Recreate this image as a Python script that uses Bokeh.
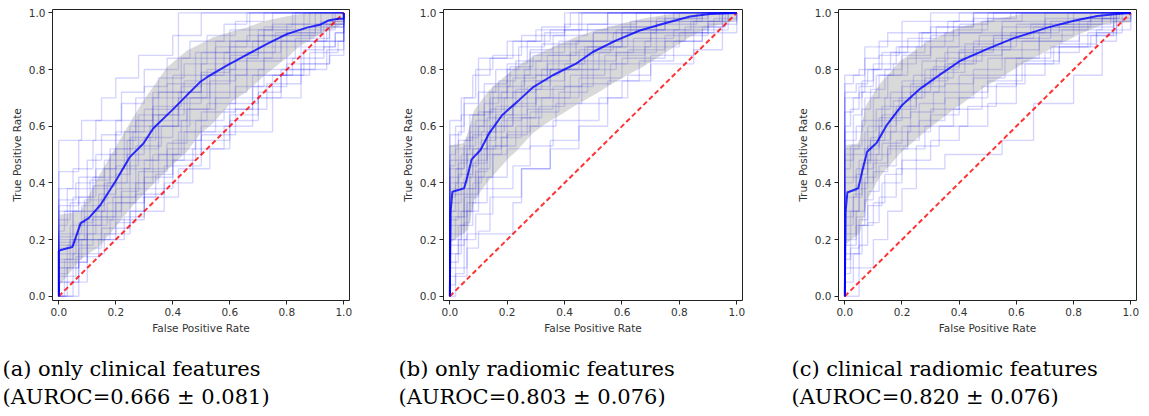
from bokeh.plotting import figure
from bokeh.layouts import row
from bokeh.models import Range1d, Title, PrintfTickFormatter
from bokeh.embed import file_html
from bokeh.resources import INLINE

# ---------------- data ----------------
captions_line1 = ["(a) only clinical features", "(b) only radiomic features", "(c) clinical radiomic features"]
captions_line2 = ["(AUROC=0.666 \u00b1 0.081)", "(AUROC=0.803 \u00b1 0.076)", "(AUROC=0.820 \u00b1 0.076)"]

# mean ROC curves
mean1_fpr = [0, 0, 0.01, 0.048, 0.077, 0.105, 0.146, 0.198, 0.25, 0.297, 0.331, 0.397, 0.449, 0.496, 0.52, 0.589, 0.665, 0.729, 0.8, 0.87, 0.916, 0.945, 0.98, 1.0, 1.0]
mean1_tpr = [0, 0.16, 0.164, 0.174, 0.258, 0.276, 0.322, 0.404, 0.492, 0.539, 0.592, 0.656, 0.709, 0.756, 0.773, 0.814, 0.855, 0.89, 0.925, 0.948, 0.958, 0.973, 0.979, 0.979, 1.0]
mean2_fpr = [0, 0.003, 0.009, 0.05, 0.061, 0.076, 0.107, 0.137, 0.183, 0.242, 0.289, 0.359, 0.44, 0.498, 0.58, 0.662, 0.744, 0.837, 0.907, 1.0]
mean2_tpr = [0, 0.3, 0.369, 0.381, 0.422, 0.483, 0.516, 0.575, 0.64, 0.693, 0.737, 0.78, 0.821, 0.862, 0.903, 0.938, 0.962, 0.987, 0.996, 1.0]
mean3_fpr = [0, 0.003, 0.009, 0.047, 0.062, 0.078, 0.111, 0.146, 0.199, 0.263, 0.333, 0.404, 0.497, 0.591, 0.708, 0.801, 0.883, 0.942, 1.0]
mean3_tpr = [0, 0.3, 0.366, 0.381, 0.446, 0.51, 0.541, 0.603, 0.673, 0.732, 0.782, 0.831, 0.872, 0.911, 0.948, 0.972, 0.989, 0.995, 1.0]

# +/- 1 std band edges
band1_fpr = [0, 0.077, 0.146, 0.2, 0.26, 0.297, 0.38, 0.449, 0.496, 0.54, 0.61, 0.656, 0.729, 0.81, 0.84, 0.916, 1.0]
band1_up = [0.287, 0.3, 0.434, 0.527, 0.63, 0.69, 0.808, 0.866, 0.89, 0.913, 0.935, 0.948, 0.973, 0.99, 0.995, 1.0, 1.0]
band1_lo = [0.035, 0.131, 0.178, 0.245, 0.32, 0.36, 0.445, 0.51, 0.573, 0.61, 0.69, 0.72, 0.785, 0.85, 0.879, 0.925, 0.96]
band2_fpr = [0, 0.05, 0.063, 0.085, 0.137, 0.207, 0.23, 0.289, 0.335, 0.394, 0.44, 0.51, 0.557, 0.627, 0.674, 0.744, 0.767, 0.837, 0.907, 1.0]
band2_up = [0.533, 0.54, 0.58, 0.656, 0.727, 0.79, 0.809, 0.845, 0.868, 0.895, 0.915, 0.94, 0.95, 0.97, 0.98, 0.992, 0.995, 1.0, 1.0, 1.0]
band2_lo = [0.188, 0.225, 0.235, 0.34, 0.41, 0.49, 0.51, 0.575, 0.61, 0.645, 0.675, 0.715, 0.745, 0.785, 0.81, 0.855, 0.87, 0.915, 0.95, 0.973]
band3_fpr = [0, 0.05, 0.053, 0.07, 0.078, 0.123, 0.193, 0.205, 0.287, 0.298, 0.392, 0.404, 0.497, 0.509, 0.591, 0.614, 0.731, 0.825, 0.907, 1.0]
band3_up = [0.533, 0.54, 0.56, 0.662, 0.68, 0.75, 0.83, 0.838, 0.898, 0.903, 0.945, 0.95, 0.973, 0.975, 0.99, 0.995, 1.0, 1.0, 1.0, 1.0]
band3_lo = [0.182, 0.22, 0.223, 0.3, 0.34, 0.422, 0.504, 0.515, 0.586, 0.595, 0.668, 0.675, 0.745, 0.75, 0.8, 0.815, 0.879, 0.926, 0.961, 0.967]

# individual fold ROC curves: (fpr, tpr) corner points of each staircase
folds1 = [
    [(0, 0.44), (0.07, 0.55), (0.13, 0.62), (0.22, 0.72), (0.3, 0.8), (0.42, 1.0)],
    [(0, 0.21), (0.05, 0.35), (0.13, 0.45), (0.2, 0.55), (0.27, 0.62), (0.35, 0.72), (0.5, 0.82), (0.6, 0.9), (0.67, 1.0)],
    [(0, 0.1), (0.07, 0.25), (0.15, 0.3), (0.22, 0.4), (0.33, 0.5), (0.42, 0.58), (0.75, 0.7), (0.85, 0.82), (0.95, 0.9)],
    [(0, 0.05), (0.05, 0.15), (0.1, 0.22), (0.2, 0.3), (0.3, 0.42), (0.4, 0.55), (0.5, 0.65), (0.62, 0.78), (0.8, 0.9), (0.95, 0.95)],
    [(0.07, 0.2), (0.15, 0.35), (0.25, 0.48), (0.35, 0.62), (0.45, 0.72), (0.55, 0.84), (0.7, 0.92), (0.9, 1.0)],
    [(0, 0.3), (0.1, 0.38), (0.18, 0.52), (0.28, 0.64), (0.38, 0.75), (0.48, 0.86), (0.6, 0.94), (0.75, 1.0)],
    [(0, 0.17), (0.04, 0.25), (0.09, 0.34), (0.17, 0.4), (0.24, 0.5), (0.3, 0.56), (0.4, 0.66), (0.53, 0.76), (0.62, 0.86), (0.78, 0.92), (0.92, 1.0)],
    [(0, 0.12), (0.1, 0.2), (0.2, 0.26), (0.27, 0.36), (0.37, 0.46), (0.5, 0.6), (0.6, 0.68), (0.7, 0.8), (0.85, 0.88), (0.97, 0.93)],
    [(0, 0.38), (0.05, 0.45), (0.12, 0.55), (0.2, 0.62), (0.33, 0.7), (0.43, 0.84), (0.55, 0.9), (0.72, 0.95), (0.82, 1.0)],
    [(0, 0.08), (0.03, 0.18), (0.12, 0.28), (0.22, 0.37), (0.28, 0.44), (0.38, 0.54), (0.45, 0.66), (0.55, 0.72), (0.66, 0.84), (0.75, 0.9), (0.88, 0.95)],
    [(0, 0.22), (0.08, 0.32), (0.16, 0.45), (0.23, 0.58), (0.3, 0.66), (0.4, 0.78), (0.55, 0.88), (0.66, 0.92), (0.8, 0.96), (0.96, 1.0)],
    [(0, 0.15), (0.06, 0.22), (0.13, 0.3), (0.2, 0.38), (0.3, 0.48), (0.44, 0.58), (0.55, 0.7), (0.75, 0.78), (0.86, 0.87), (0.93, 0.96)],
    [(0.03, 0.1), (0.07, 0.17), (0.15, 0.24), (0.25, 0.3), (0.37, 0.4), (0.47, 0.52), (0.58, 0.6), (0.68, 0.74), (0.8, 0.82), (0.95, 0.85)],
    [(0, 0.25), (0.03, 0.38), (0.1, 0.48), (0.15, 0.57), (0.22, 0.68), (0.3, 0.74), (0.38, 0.84), (0.46, 0.9), (0.58, 0.96), (0.66, 1.0)],
    [(0, 0.05), (0.07, 0.12), (0.1, 0.27), (0.19, 0.35), (0.27, 0.53), (0.36, 0.6), (0.46, 0.7), (0.6, 0.8), (0.72, 0.88), (0.85, 0.94), (0.97, 1.0)],
    [(0, 0.18), (0.05, 0.3), (0.14, 0.36), (0.2, 0.46), (0.28, 0.52), (0.35, 0.64), (0.44, 0.7), (0.52, 0.8), (0.62, 0.83), (0.78, 0.9), (0.94, 0.97)],
    [(0.02, 0.13), (0.08, 0.2), (0.18, 0.27), (0.3, 0.35), (0.42, 0.45), (0.53, 0.52), (0.6, 0.64), (0.7, 0.72), (0.78, 0.8), (0.9, 0.9)],
    [(0, 0.34), (0.06, 0.4), (0.13, 0.5), (0.2, 0.58), (0.27, 0.7), (0.35, 0.77), (0.44, 0.82), (0.52, 0.92), (0.62, 0.97), (0.72, 1.0)],
    [(0, 0.1), (0.04, 0.2), (0.1, 0.3), (0.16, 0.4), (0.22, 0.45), (0.32, 0.6), (0.42, 0.68), (0.5, 0.75), (0.6, 0.88), (0.72, 0.94), (0.86, 1.0)],
    [(0, 0.2), (0.09, 0.28), (0.2, 0.33), (0.3, 0.45), (0.38, 0.52), (0.48, 0.62), (0.58, 0.66), (0.68, 0.78), (0.82, 0.84), (0.93, 0.88), (0.97, 0.93)],
    [(0, 0.55), (0.08, 0.62), (0.15, 0.7), (0.2, 0.77), (0.28, 0.85), (0.4, 0.92), (0.5, 1.0)],
    [(0, 0.27), (0.04, 0.33), (0.11, 0.41), (0.18, 0.5), (0.25, 0.6), (0.33, 0.67), (0.43, 0.74), (0.5, 0.79), (0.6, 0.85), (0.7, 0.94), (0.83, 1.0)],
    [(0, 0.07), (0.06, 0.14), (0.14, 0.2), (0.23, 0.28), (0.3, 0.38), (0.4, 0.48), (0.48, 0.55), (0.6, 0.62), (0.7, 0.7), (0.78, 0.78), (0.88, 0.86), (0.98, 0.9)],
    [(0, 0.19), (0.07, 0.26), (0.12, 0.39), (0.2, 0.43), (0.25, 0.56), (0.33, 0.64), (0.42, 0.72), (0.5, 0.78), (0.58, 0.86), (0.68, 0.9), (0.8, 0.93), (0.92, 0.97)],
    [(0, 0.13), (0.05, 0.2), (0.1, 0.25), (0.17, 0.33), (0.27, 0.4), (0.35, 0.5), (0.43, 0.62), (0.52, 0.68), (0.62, 0.74), (0.72, 0.84), (0.83, 0.91), (0.95, 0.96)],
    [(0, 0.32), (0.07, 0.42), (0.16, 0.48), (0.24, 0.55), (0.34, 0.6), (0.42, 0.7), (0.53, 0.78), (0.66, 0.86), (0.76, 0.93), (0.9, 0.96)],
    [(0, 0.23), (0.02, 0.3), (0.07, 0.35), (0.12, 0.42), (0.2, 0.52), (0.26, 0.58), (0.33, 0.72), (0.44, 0.76), (0.5, 0.86), (0.62, 0.9), (0.75, 0.96), (0.88, 1.0)],
    [(0.05, 0.05), (0.1, 0.15), (0.16, 0.22), (0.25, 0.35), (0.34, 0.43), (0.4, 0.5), (0.5, 0.57), (0.62, 0.66), (0.73, 0.75), (0.85, 0.8), (0.94, 0.87)],
]
folds2 = [
    [(0, 0.53), (0.03, 0.58), (0.05, 0.68), (0.1, 0.84), (0.2, 0.9), (0.3, 0.94), (0.45, 1.0)],
    [(0, 0.45), (0.05, 0.55), (0.08, 0.64), (0.14, 0.7), (0.2, 0.78), (0.28, 0.86), (0.4, 0.94), (0.55, 1.0)],
    [(0, 0.2), (0.04, 0.3), (0.07, 0.42), (0.12, 0.52), (0.18, 0.62), (0.25, 0.7), (0.35, 0.8), (0.48, 0.88), (0.6, 0.94), (0.75, 1.0)],
    [(0, 0.1), (0.06, 0.22), (0.12, 0.22), (0.22, 0.33), (0.25, 0.45), (0.35, 0.52), (0.45, 0.6), (0.55, 0.7), (0.62, 0.78), (0.7, 0.85), (0.85, 0.93), (0.95, 1.0)],
    [(0, 0.38), (0.03, 0.48), (0.08, 0.57), (0.14, 0.66), (0.2, 0.74), (0.26, 0.8), (0.36, 0.88), (0.5, 0.93), (0.65, 0.97), (0.8, 1.0)],
    [(0, 0.3), (0.02, 0.4), (0.06, 0.5), (0.1, 0.6), (0.15, 0.7), (0.22, 0.77), (0.3, 0.83), (0.42, 0.9), (0.55, 0.95), (0.7, 1.0)],
    [(0, 0.25), (0.06, 0.33), (0.09, 0.44), (0.13, 0.5), (0.18, 0.56), (0.25, 0.63), (0.32, 0.7), (0.42, 0.78), (0.54, 0.85), (0.68, 0.9), (0.82, 0.95), (0.95, 1.0)],
    [(0, 0.57), (0.04, 0.64), (0.1, 0.72), (0.16, 0.8), (0.24, 0.88), (0.33, 0.93), (0.4, 1.0)],
    [(0, 0.15), (0.03, 0.25), (0.05, 0.35), (0.1, 0.45), (0.14, 0.6), (0.22, 0.68), (0.3, 0.76), (0.4, 0.82), (0.5, 0.88), (0.62, 0.94), (0.8, 0.97), (0.95, 1.0)],
    [(0, 0.42), (0.04, 0.5), (0.07, 0.6), (0.12, 0.68), (0.17, 0.76), (0.23, 0.83), (0.32, 0.89), (0.45, 0.94), (0.6, 1.0)],
    [(0, 0.07), (0.06, 0.17), (0.1, 0.23), (0.14, 0.35), (0.25, 0.45), (0.35, 0.55), (0.45, 0.62), (0.52, 0.7), (0.6, 0.76), (0.7, 0.82), (0.85, 0.87), (0.95, 0.93)],
    [(0, 0.35), (0.02, 0.45), (0.05, 0.53), (0.09, 0.62), (0.14, 0.72), (0.2, 0.8), (0.28, 0.87), (0.36, 0.92), (0.48, 0.96), (0.65, 1.0)],
    [(0, 0.22), (0.05, 0.3), (0.08, 0.4), (0.11, 0.55), (0.16, 0.64), (0.22, 0.72), (0.3, 0.78), (0.38, 0.85), (0.5, 0.9), (0.6, 0.95), (0.72, 0.98), (0.88, 1.0)],
    [(0, 0.48), (0.03, 0.55), (0.07, 0.64), (0.12, 0.75), (0.2, 0.82), (0.27, 0.9), (0.35, 0.94), (0.46, 1.0)],
    [(0, 0.12), (0.03, 0.2), (0.06, 0.3), (0.1, 0.38), (0.15, 0.5), (0.2, 0.58), (0.28, 0.65), (0.38, 0.72), (0.48, 0.8), (0.58, 0.86), (0.72, 0.93), (0.9, 0.97)],
    [(0, 0.3), (0.05, 0.42), (0.08, 0.47), (0.13, 0.58), (0.19, 0.64), (0.27, 0.74), (0.35, 0.8), (0.45, 0.87), (0.57, 0.93), (0.72, 0.96), (0.86, 1.0)],
    [(0, 0.2), (0.02, 0.28), (0.06, 0.38), (0.1, 0.5), (0.13, 0.56), (0.2, 0.63), (0.3, 0.7), (0.45, 0.77), (0.6, 0.84), (0.75, 0.9), (0.88, 0.95), (0.96, 1.0)],
    [(0, 0.5), (0.02, 0.6), (0.05, 0.7), (0.09, 0.8), (0.15, 0.85), (0.25, 0.92), (0.4, 0.96), (0.55, 1.0)],
    [(0, 0.04), (0.02, 0.15), (0.04, 0.25), (0.08, 0.33), (0.13, 0.42), (0.2, 0.52), (0.28, 0.6), (0.37, 0.68), (0.46, 0.75), (0.56, 0.82), (0.68, 0.88), (0.8, 0.93), (0.92, 0.98)],
    [(0, 0.27), (0.03, 0.36), (0.07, 0.46), (0.1, 0.52), (0.16, 0.6), (0.22, 0.67), (0.3, 0.73), (0.4, 0.8), (0.52, 0.86), (0.64, 0.91), (0.78, 0.94), (0.9, 1.0)],
    [(0, 0.62), (0.04, 0.7), (0.08, 0.78), (0.14, 0.84), (0.22, 0.9), (0.32, 0.95), (0.42, 1.0)],
    [(0, 0.33), (0.04, 0.4), (0.06, 0.52), (0.11, 0.58), (0.16, 0.67), (0.23, 0.73), (0.32, 0.8), (0.42, 0.86), (0.56, 0.9), (0.7, 0.93), (0.85, 0.97), (0.97, 1.0)],
    [(0, 0.18), (0.05, 0.26), (0.07, 0.36), (0.1, 0.42), (0.15, 0.53), (0.23, 0.6), (0.31, 0.67), (0.4, 0.74), (0.5, 0.82), (0.62, 0.87), (0.75, 0.92), (0.9, 0.96)],
    [(0, 0.4), (0.03, 0.47), (0.06, 0.56), (0.1, 0.65), (0.15, 0.74), (0.21, 0.81), (0.29, 0.85), (0.38, 0.9), (0.5, 0.93), (0.63, 0.97), (0.78, 1.0)],
    [(0.02, 0.08), (0.05, 0.2), (0.09, 0.29), (0.15, 0.38), (0.22, 0.46), (0.28, 0.53), (0.36, 0.62), (0.45, 0.68), (0.55, 0.76), (0.66, 0.83), (0.78, 0.9), (0.88, 0.94), (0.97, 1.0)],
    [(0, 0.46), (0.02, 0.52), (0.07, 0.58), (0.12, 0.65), (0.18, 0.72), (0.26, 0.78), (0.34, 0.85), (0.44, 0.9), (0.58, 0.94), (0.75, 0.98), (0.9, 1.0)],
    [(0, 0.28), (0.05, 0.38), (0.09, 0.48), (0.13, 0.53), (0.2, 0.57), (0.27, 0.66), (0.36, 0.74), (0.46, 0.83), (0.58, 0.88), (0.7, 0.94), (0.84, 0.97), (0.94, 1.0)],
    [(0, 0.36), (0.03, 0.43), (0.08, 0.52), (0.13, 0.63), (0.19, 0.7), (0.25, 0.76), (0.34, 0.82), (0.47, 0.88), (0.6, 0.93), (0.72, 0.97), (0.88, 1.0)],
]
folds3 = [
    [(0, 0.78), (0.05, 0.8), (0.07, 0.88), (0.15, 0.93), (0.2, 0.97), (0.3, 1.0)],
    [(0, 0.55), (0.04, 0.6), (0.07, 0.7), (0.12, 0.78), (0.2, 0.85), (0.3, 0.92), (0.4, 0.96), (0.5, 1.0)],
    [(0, 0.25), (0.03, 0.35), (0.06, 0.45), (0.1, 0.55), (0.16, 0.63), (0.23, 0.72), (0.3, 0.8), (0.4, 0.86), (0.52, 0.92), (0.65, 0.96), (0.8, 1.0)],
    [(0, 0.15), (0.05, 0.25), (0.08, 0.32), (0.13, 0.4), (0.2, 0.48), (0.3, 0.55), (0.4, 0.6), (0.5, 0.68), (0.6, 0.78), (0.7, 0.86), (0.82, 0.92), (0.94, 0.97)],
    [(0.05, 0.1), (0.1, 0.2), (0.15, 0.3), (0.2, 0.38), (0.25, 0.45), (0.35, 0.5), (0.55, 0.55), (0.66, 0.68), (0.8, 0.78), (0.9, 0.9), (0.95, 1.0)],
    [(0, 0.45), (0.02, 0.53), (0.06, 0.62), (0.1, 0.7), (0.15, 0.78), (0.22, 0.84), (0.3, 0.88), (0.4, 0.93), (0.55, 0.97), (0.7, 1.0)],
    [(0, 0.35), (0.04, 0.45), (0.07, 0.52), (0.12, 0.6), (0.18, 0.66), (0.25, 0.72), (0.33, 0.79), (0.42, 0.85), (0.55, 0.9), (0.68, 0.94), (0.85, 0.97), (0.95, 1.0)],
    [(0, 0.65), (0.03, 0.7), (0.06, 0.76), (0.1, 0.82), (0.18, 0.88), (0.26, 0.93), (0.36, 0.97), (0.45, 1.0)],
    [(0, 0.2), (0.02, 0.3), (0.05, 0.38), (0.08, 0.5), (0.12, 0.58), (0.18, 0.67), (0.25, 0.74), (0.35, 0.82), (0.45, 0.88), (0.58, 0.93), (0.72, 0.97), (0.9, 1.0)],
    [(0, 0.72), (0.04, 0.75), (0.08, 0.8), (0.13, 0.86), (0.2, 0.9), (0.3, 0.95), (0.45, 1.0)],
    [(0, 0.1), (0.05, 0.18), (0.08, 0.26), (0.12, 0.35), (0.18, 0.45), (0.25, 0.53), (0.33, 0.6), (0.43, 0.67), (0.53, 0.75), (0.63, 0.82), (0.75, 0.88), (0.88, 0.93), (0.97, 1.0)],
    [(0, 0.5), (0.03, 0.58), (0.06, 0.66), (0.09, 0.73), (0.14, 0.8), (0.2, 0.86), (0.28, 0.9), (0.38, 0.94), (0.5, 0.98), (0.6, 1.0)],
    [(0, 0.3), (0.05, 0.4), (0.08, 0.48), (0.13, 0.54), (0.2, 0.6), (0.26, 0.68), (0.35, 0.75), (0.45, 0.8), (0.55, 0.87), (0.68, 0.92), (0.8, 0.96), (0.93, 1.0)],
    [(0, 0.6), (0.02, 0.66), (0.05, 0.74), (0.1, 0.8), (0.16, 0.86), (0.22, 0.91), (0.32, 0.95), (0.45, 0.98), (0.58, 1.0)],
    [(0, 0.05), (0.03, 0.15), (0.06, 0.25), (0.1, 0.33), (0.14, 0.43), (0.2, 0.52), (0.28, 0.6), (0.38, 0.66), (0.48, 0.74), (0.6, 0.82), (0.73, 0.88), (0.86, 0.92), (0.95, 0.97)],
    [(0, 0.4), (0.03, 0.5), (0.07, 0.58), (0.11, 0.66), (0.16, 0.72), (0.24, 0.78), (0.32, 0.84), (0.42, 0.89), (0.55, 0.93), (0.7, 0.97), (0.86, 1.0)],
    [(0, 0.22), (0.04, 0.28), (0.07, 0.4), (0.1, 0.47), (0.15, 0.53), (0.22, 0.6), (0.3, 0.66), (0.4, 0.72), (0.5, 0.78), (0.6, 0.84), (0.72, 0.88), (0.85, 0.93), (0.94, 1.0)],
    [(0, 0.7), (0.05, 0.72), (0.07, 0.8), (0.12, 0.85), (0.19, 0.88), (0.27, 0.93), (0.38, 0.97), (0.52, 1.0)],
    [(0, 0.13), (0.02, 0.2), (0.04, 0.3), (0.07, 0.42), (0.11, 0.5), (0.16, 0.58), (0.23, 0.65), (0.31, 0.72), (0.4, 0.78), (0.5, 0.84), (0.62, 0.9), (0.76, 0.94), (0.9, 0.98)],
    [(0, 0.52), (0.05, 0.55), (0.1, 0.62), (0.14, 0.7), (0.2, 0.74), (0.28, 0.8), (0.35, 0.86), (0.45, 0.9), (0.55, 0.95), (0.7, 0.98), (0.93, 1.0)],
    [(0, 0.75), (0.03, 0.78), (0.07, 0.84), (0.12, 0.9), (0.2, 0.93), (0.3, 0.97), (0.4, 1.0)],
    [(0, 0.28), (0.03, 0.36), (0.06, 0.47), (0.09, 0.55), (0.14, 0.62), (0.2, 0.7), (0.28, 0.77), (0.38, 0.83), (0.48, 0.88), (0.6, 0.93), (0.75, 0.96), (0.9, 1.0)],
    [(0, 0.42), (0.05, 0.48), (0.09, 0.56), (0.13, 0.64), (0.19, 0.7), (0.27, 0.76), (0.36, 0.82), (0.46, 0.87), (0.58, 0.91), (0.72, 0.95), (0.86, 0.98), (0.96, 1.0)],
    [(0, 0.18), (0.04, 0.25), (0.07, 0.34), (0.1, 0.44), (0.15, 0.52), (0.22, 0.58), (0.3, 0.64), (0.4, 0.7), (0.5, 0.76), (0.62, 0.83), (0.75, 0.89), (0.88, 0.94)],
    [(0, 0.58), (0.03, 0.64), (0.06, 0.72), (0.11, 0.78), (0.17, 0.82), (0.25, 0.88), (0.35, 0.93), (0.48, 0.97), (0.62, 1.0)],
    [(0, 0.08), (0.02, 0.17), (0.05, 0.27), (0.08, 0.37), (0.12, 0.46), (0.18, 0.55), (0.26, 0.62), (0.35, 0.7), (0.45, 0.77), (0.56, 0.84), (0.68, 0.9), (0.82, 0.95), (0.94, 1.0)],
    [(0, 0.37), (0.04, 0.43), (0.08, 0.53), (0.12, 0.63), (0.17, 0.69), (0.23, 0.75), (0.31, 0.81), (0.4, 0.87), (0.52, 0.91), (0.66, 0.95), (0.82, 0.98), (0.95, 1.0)],
    [(0, 0.48), (0.03, 0.52), (0.08, 0.6), (0.13, 0.67), (0.2, 0.76), (0.27, 0.83), (0.36, 0.88), (0.47, 0.92), (0.6, 0.96), (0.78, 1.0)],
]

diag = [0.0, 1.0]
ticks = [0.0, 0.2, 0.4, 0.6, 0.8, 1.0]


def stairs(points):
    xs, ys = [0.0], [0.0]
    for fx, ty in points:
        xs += [fx, fx]
        ys += [ys[-1], ty]
    xs += [1.0, 1.0]
    ys += [ys[-1], 1.0]
    return xs, ys


panels = [
    (folds1, mean1_fpr, mean1_tpr, band1_fpr, band1_lo, band1_up),
    (folds2, mean2_fpr, mean2_tpr, band2_fpr, band2_lo, band2_up),
    (folds3, mean3_fpr, mean3_tpr, band3_fpr, band3_lo, band3_up),
]
borders = [(52, 297, 43), (51, 299, 45), (51, 298, 13)]
cap_offsets = [-50, -45, -47]

figs = []
for i, (folds, mfpr, mtpr, bfpr, blo, bup) in enumerate(panels):
    bl, fw, br = borders[i]
    p = figure(frame_width=fw, frame_height=291, output_backend="svg", toolbar_location=None,
               x_range=Range1d(-0.022, 1.02), y_range=Range1d(-0.015, 1.012),
               min_border_left=bl, min_border_right=br, min_border_top=9, min_border_bottom=0)
    p.background_fill_color = "white"
    p.border_fill_color = "white"
    p.outline_line_color = "#222222"
    p.outline_line_width = 1
    p.grid.visible = False
    xs_all, ys_all = [], []
    for f in folds:
        xs, ys = stairs(f)
        xs_all.append(xs)
        ys_all.append(ys)
    p.multi_line(xs_all, ys_all, line_color="blue", line_alpha=0.17, line_width=1.4)
    p.varea(x=bfpr, y1=blo, y2=bup, fill_color="grey", fill_alpha=0.3)
    p.line(diag, diag, line_color="red", line_dash="5 3", line_width=2, line_alpha=0.8)
    p.line(mfpr, mtpr, line_color="blue", line_width=2, line_alpha=0.8)

    for ax in (p.xaxis[0], p.yaxis[0]):
        ax.ticker = ticks
        ax.formatter = PrintfTickFormatter(format="%.1f")
        ax.major_tick_out = 4
        ax.major_tick_in = 0
        ax.minor_tick_line_color = None
        ax.axis_line_color = None
        ax.major_tick_line_color = "#222222"
        ax.major_label_text_font = "DejaVu Sans"
        ax.major_label_text_font_size = "10.5px"
        ax.major_label_text_color = "#333333"
        ax.axis_label_text_font = "DejaVu Sans"
        ax.axis_label_text_font_size = "10.5px"
        ax.axis_label_text_font_style = "normal"
        ax.axis_label_text_color = "#333333"
        ax.major_label_standoff = 3
        ax.axis_label_standoff = 3
    p.xaxis[0].axis_label = "False Positive Rate"
    p.yaxis[0].axis_label = "True Positive Rate"

    t = Title(text=captions_line1[i] + "\n" + captions_line2[i], align="left",
              offset=cap_offsets[i], standoff=36,
              text_font="DejaVu Serif", text_font_size="21px", text_line_height=1.2,
              text_font_style="normal", text_color="black")
    p.add_layout(t, "below")
    figs.append(p)

layout = row(*figs, spacing=0)
open("out.html", "w").write(file_html(layout, INLINE))
